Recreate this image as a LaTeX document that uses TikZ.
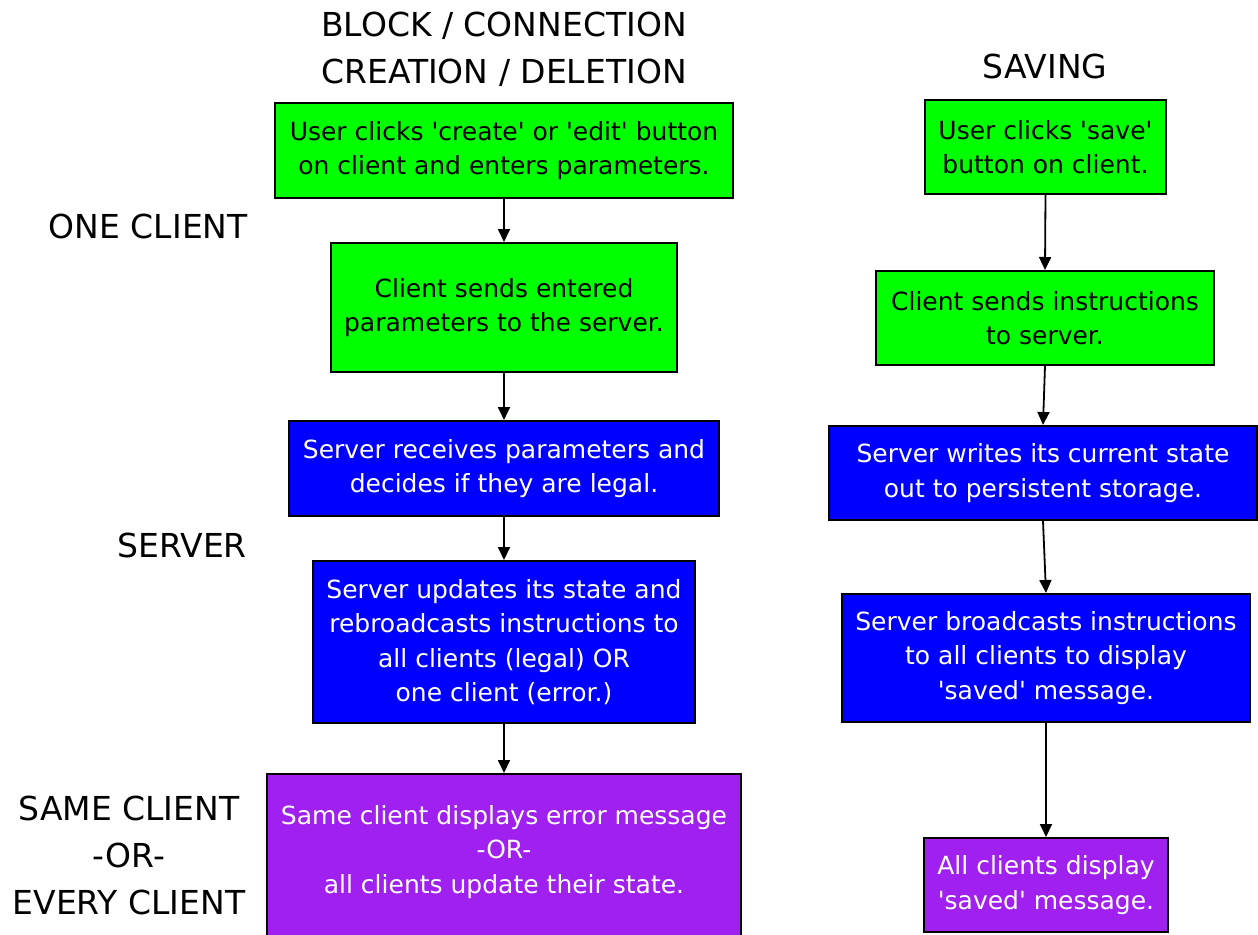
\documentclass[tikz,border=0pt]{standalone}
\usepackage{fontspec}
\setmainfont{DejaVu Sans}
\usetikzlibrary{arrows.meta}
\definecolor{boxgreen}{HTML}{00FF00}
\definecolor{boxblue}{HTML}{0000FF}
\definecolor{boxpurple}{HTML}{A020F0}
\newcommand{\sq}{\textquotesingle}
\tikzset{
  box/.style={draw=black, line width=2bp, align=center, inner sep=0pt,
    font=\fontsize{25bp}{34.5bp}\selectfont},
  greenbox/.style={box, fill=boxgreen, text=black},
  bluebox/.style={box, fill=boxblue, text=white},
  purplebox/.style={box, fill=boxpurple, text=white},
  boxtext/.style={align=center, inner sep=0pt, text=white,
    font=\fontsize{25bp}{34.5bp}\selectfont},
  sidelabel/.style={align=center, inner sep=0pt,
    font=\fontsize{33bp}{47bp}\selectfont},
  flow/.style={draw=black, line width=1.8bp, -{Triangle[length=13bp,width=12bp]}}
}
\begin{document}
\begin{tikzpicture}[x=1bp, y=-1bp]
\useasboundingbox[fill=white] (0,0) rectangle (1258,935);

% titles and side labels
\node[sidelabel] (t1) at (504,49) {BLOCK / CONNECTION\\CREATION / DELETION};
\node[sidelabel] (t2) at (1045,66) {SAVING};
\node[sidelabel, anchor=east] (l1) at (248,226) {ONE CLIENT};
\node[sidelabel, anchor=east] (l2) at (247,545) {SERVER};
\node[sidelabel] (l3) at (129,855) {SAME CLIENT\\-OR-\\EVERY CLIENT};

% left column
\node[greenbox, minimum width=457bp, minimum height=95bp] (g1) at (504,150.5)
  {User clicks \sq create\sq{} or \sq edit\sq{} button\\on client and enters parameters.};
\node[greenbox, minimum width=346bp, minimum height=129bp] (g2) at (504,307.5)
  {Client sends entered\\parameters to the server.};
\node[bluebox, minimum width=430bp, minimum height=95bp] (b1) at (504,468.5)
  {Server receives parameters and\\decides if they are legal.};
\node[bluebox, minimum width=382bp, minimum height=162bp] (b2) at (504,642)
  {Server updates its state and\\rebroadcasts instructions to\\all clients (legal) OR\\one client (error.)};
\node[purplebox, minimum width=474bp, minimum height=175bp, anchor=north] (p1) at (504,773) {};
\node[boxtext] (p1t) at (504,852)
  {Same client displays error message\\-OR-\\all clients update their state.};

% right column
\node[greenbox, minimum width=241bp, minimum height=94bp] (rg1) at (1045.5,147)
  {User clicks \sq save\sq\\button on client.};
\node[greenbox, minimum width=338bp, minimum height=94bp] (rg2) at (1045,318)
  {Client sends instructions\\to server.};
\node[bluebox, minimum width=428bp, minimum height=94bp] (rb1) at (1043,473)
  {Server writes its current state\\out to persistent storage.};
\node[bluebox, minimum width=408bp, minimum height=128bp] (rb2) at (1046,658)
  {Server broadcasts instructions\\to all clients to display\\\sq saved\sq{} message.};
\node[purplebox, minimum width=244bp, minimum height=94bp] (rp1) at (1046,885)
  {All clients display\\\sq saved\sq{} message.};

% connectors
\draw[flow] (g1.south) -- (g2.north);
\draw[flow] (g2.south) -- (b1.north);
\draw[flow] (b1.south) -- (b2.north);
\draw[flow] (b2.south) -- (p1.north);
\draw[flow] (rg1.south) -- (rg2.north);
\draw[flow] (rg2.south) -- (rb1.north);
\draw[flow] (rb1.south) -- (rb2.north);
\draw[flow] (rb2.south) -- (rp1.north);
\end{tikzpicture}
\end{document}
